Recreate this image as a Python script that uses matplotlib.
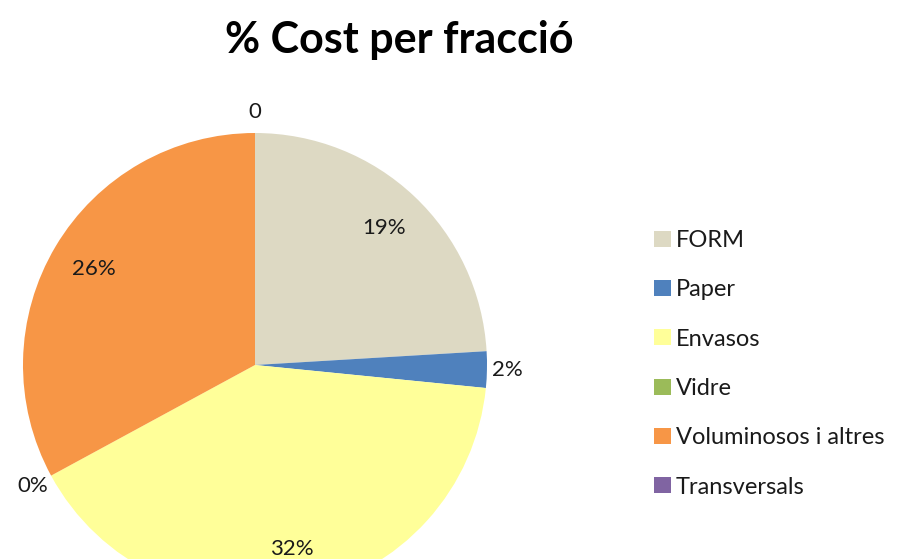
import numpy as np
import matplotlib
matplotlib.use("Agg")
import matplotlib.pyplot as plt

plt.rcParams['font.family'] = ['Lato', 'DejaVu Sans']

categories = ["FORM", "Paper", "Envasos", "Vidre", "Voluminosos i altres", "Transversals"]
values = [19, 2, 32, 0, 26, 0]
value_labels = ["19%", "2%", "32%", "0%", "26%", "0"]
colors = ["#DDD9C3", "#4F81BD", "#FFFF99", "#9BBB59", "#F79646", "#8064A2"]

W, H = 898, 559
fig = plt.figure(figsize=(W / 100, H / 100), dpi=100)

cx, cy, r = 255, 365, 232
ax = fig.add_axes([(cx - r) / W, (H - cy - r) / H, 2 * r / W, 2 * r / H])
wedges, _ = ax.pie(values, colors=colors, startangle=90, counterclock=False,
                   wedgeprops=dict(linewidth=0))
ax.set_xlim(-1, 1)
ax.set_ylim(-1, 1)
ax.set_aspect('equal')

for w, lab, v in zip(wedges, value_labels, values):
    theta = np.deg2rad((w.theta1 + w.theta2) / 2)
    frac = v / sum(values)
    d = 0.81 if frac > 0.1 else 1.09
    x, y = d * np.cos(theta), d * np.sin(theta)
    ax.text(x, y, lab, ha='center', va='center', fontsize=16, color='#1a1a1a', clip_on=False)

fig.text(399 / W, 1 - 40 / H, "% Cost per fracció", ha='center', va='center',
         fontsize=31, fontweight='bold', color='black')

leg = fig.legend(wedges, categories, loc='upper left',
                 bbox_to_anchor=(654 / W, 1 - 230 / H), frameon=False,
                 fontsize=17, handlelength=0.72, handleheight=0.65,
                 handletextpad=0.2, labelspacing=1.2, borderpad=0, borderaxespad=0)
for t in leg.get_texts():
    t.set_color('#1a1a1a')

fig.savefig("out.png", dpi=100)
